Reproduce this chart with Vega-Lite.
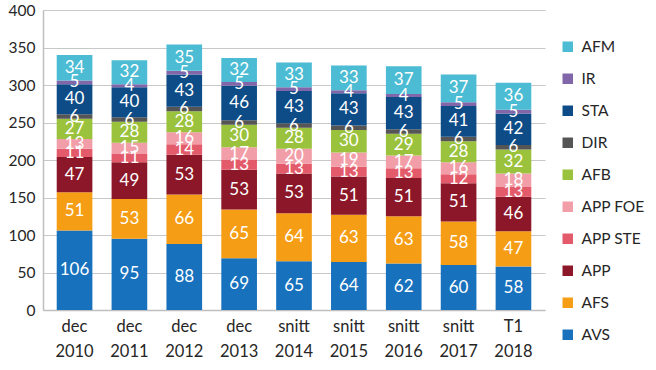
{
  "$schema": "https://vega.github.io/schema/vega-lite/v6.json",
  "width": 502,
  "height": 300,
  "autosize": {"type": "none"},
  "padding": {"left": 43, "top": 10, "right": 111, "bottom": 60},
  "background": "white",
  "config": {
    "font": "Lato",
    "view": {"stroke": null}
  },
  "data": {
    "values": [
      {"period": "dec 2010", "cat": "AVS", "v": 106}, {"period": "dec 2010", "cat": "AFS", "v": 51}, {"period": "dec 2010", "cat": "APP", "v": 47}, {"period": "dec 2010", "cat": "APP STE", "v": 11}, {"period": "dec 2010", "cat": "APP FOE", "v": 13}, {"period": "dec 2010", "cat": "AFB", "v": 27}, {"period": "dec 2010", "cat": "DIR", "v": 6}, {"period": "dec 2010", "cat": "STA", "v": 40}, {"period": "dec 2010", "cat": "IR", "v": 5}, {"period": "dec 2010", "cat": "AFM", "v": 34},
      {"period": "dec 2011", "cat": "AVS", "v": 95}, {"period": "dec 2011", "cat": "AFS", "v": 53}, {"period": "dec 2011", "cat": "APP", "v": 49}, {"period": "dec 2011", "cat": "APP STE", "v": 11}, {"period": "dec 2011", "cat": "APP FOE", "v": 15}, {"period": "dec 2011", "cat": "AFB", "v": 28}, {"period": "dec 2011", "cat": "DIR", "v": 6}, {"period": "dec 2011", "cat": "STA", "v": 40}, {"period": "dec 2011", "cat": "IR", "v": 4}, {"period": "dec 2011", "cat": "AFM", "v": 32},
      {"period": "dec 2012", "cat": "AVS", "v": 88}, {"period": "dec 2012", "cat": "AFS", "v": 66}, {"period": "dec 2012", "cat": "APP", "v": 53}, {"period": "dec 2012", "cat": "APP STE", "v": 14}, {"period": "dec 2012", "cat": "APP FOE", "v": 16}, {"period": "dec 2012", "cat": "AFB", "v": 28}, {"period": "dec 2012", "cat": "DIR", "v": 6}, {"period": "dec 2012", "cat": "STA", "v": 43}, {"period": "dec 2012", "cat": "IR", "v": 5}, {"period": "dec 2012", "cat": "AFM", "v": 35},
      {"period": "dec 2013", "cat": "AVS", "v": 69}, {"period": "dec 2013", "cat": "AFS", "v": 65}, {"period": "dec 2013", "cat": "APP", "v": 53}, {"period": "dec 2013", "cat": "APP STE", "v": 13}, {"period": "dec 2013", "cat": "APP FOE", "v": 17}, {"period": "dec 2013", "cat": "AFB", "v": 30}, {"period": "dec 2013", "cat": "DIR", "v": 6}, {"period": "dec 2013", "cat": "STA", "v": 46}, {"period": "dec 2013", "cat": "IR", "v": 5}, {"period": "dec 2013", "cat": "AFM", "v": 32},
      {"period": "snitt 2014", "cat": "AVS", "v": 65}, {"period": "snitt 2014", "cat": "AFS", "v": 64}, {"period": "snitt 2014", "cat": "APP", "v": 53}, {"period": "snitt 2014", "cat": "APP STE", "v": 13}, {"period": "snitt 2014", "cat": "APP FOE", "v": 20}, {"period": "snitt 2014", "cat": "AFB", "v": 28}, {"period": "snitt 2014", "cat": "DIR", "v": 6}, {"period": "snitt 2014", "cat": "STA", "v": 43}, {"period": "snitt 2014", "cat": "IR", "v": 5}, {"period": "snitt 2014", "cat": "AFM", "v": 33},
      {"period": "snitt 2015", "cat": "AVS", "v": 64}, {"period": "snitt 2015", "cat": "AFS", "v": 63}, {"period": "snitt 2015", "cat": "APP", "v": 51}, {"period": "snitt 2015", "cat": "APP STE", "v": 13}, {"period": "snitt 2015", "cat": "APP FOE", "v": 19}, {"period": "snitt 2015", "cat": "AFB", "v": 30}, {"period": "snitt 2015", "cat": "DIR", "v": 6}, {"period": "snitt 2015", "cat": "STA", "v": 43}, {"period": "snitt 2015", "cat": "IR", "v": 4}, {"period": "snitt 2015", "cat": "AFM", "v": 33},
      {"period": "snitt 2016", "cat": "AVS", "v": 62}, {"period": "snitt 2016", "cat": "AFS", "v": 63}, {"period": "snitt 2016", "cat": "APP", "v": 51}, {"period": "snitt 2016", "cat": "APP STE", "v": 13}, {"period": "snitt 2016", "cat": "APP FOE", "v": 17}, {"period": "snitt 2016", "cat": "AFB", "v": 29}, {"period": "snitt 2016", "cat": "DIR", "v": 6}, {"period": "snitt 2016", "cat": "STA", "v": 43}, {"period": "snitt 2016", "cat": "IR", "v": 4}, {"period": "snitt 2016", "cat": "AFM", "v": 37},
      {"period": "snitt 2017", "cat": "AVS", "v": 60}, {"period": "snitt 2017", "cat": "AFS", "v": 58}, {"period": "snitt 2017", "cat": "APP", "v": 51}, {"period": "snitt 2017", "cat": "APP STE", "v": 12}, {"period": "snitt 2017", "cat": "APP FOE", "v": 16}, {"period": "snitt 2017", "cat": "AFB", "v": 28}, {"period": "snitt 2017", "cat": "DIR", "v": 6}, {"period": "snitt 2017", "cat": "STA", "v": 41}, {"period": "snitt 2017", "cat": "IR", "v": 5}, {"period": "snitt 2017", "cat": "AFM", "v": 37},
      {"period": "T1 2018", "cat": "AVS", "v": 58}, {"period": "T1 2018", "cat": "AFS", "v": 47}, {"period": "T1 2018", "cat": "APP", "v": 46}, {"period": "T1 2018", "cat": "APP STE", "v": 13}, {"period": "T1 2018", "cat": "APP FOE", "v": 18}, {"period": "T1 2018", "cat": "AFB", "v": 32}, {"period": "T1 2018", "cat": "DIR", "v": 6}, {"period": "T1 2018", "cat": "STA", "v": 42}, {"period": "T1 2018", "cat": "IR", "v": 5}, {"period": "T1 2018", "cat": "AFM", "v": 36}
    ]
  },
  "transform": [
    {"calculate": "indexof(['AVS','AFS','APP','APP STE','APP FOE','AFB','DIR','STA','IR','AFM'], datum.cat)", "as": "k"},
    {"stack": "v", "groupby": ["period"], "sort": [{"field": "k", "order": "ascending"}], "as": ["y0", "y1"]},
    {"calculate": "(datum.y0 + datum.y1) / 2", "as": "mid"}
  ],
  "encoding": {
    "x": {
      "field": "period", "type": "nominal", "sort": null,
      "scale": {"paddingInner": 0.35, "paddingOuter": 0.25},
      "axis": {
        "title": null, "labelAngle": 0, "labelFontSize": 16.5, "labelColor": "#262626",
        "labelExpr": "split(datum.label, ' ')", "labelLineHeight": 25, "labelPadding": 8,
        "labelOverlap": false, "ticks": false, "domainColor": "#bfbfbf", "domainWidth": 1.5
      }
    }
  },
  "layer": [
    {
      "mark": {"type": "bar"},
      "encoding": {
        "y": {
          "field": "y0", "type": "quantitative",
          "scale": {"domain": [0, 400]},
          "axis": {
            "title": null, "values": [0, 50, 100, 150, 200, 250, 300, 350, 400],
            "labelFontSize": 15.5, "labelColor": "#262626", "labelPadding": 8,
            "labelOverlap": false, "ticks": false, "gridColor": "#c8c8c8", "gridWidth": 1.2,
            "domainColor": "#bfbfbf", "domainWidth": 1.5
          }
        },
        "y2": {"field": "y1"},
        "color": {
          "field": "cat", "type": "nominal",
          "scale": {
            "domain": ["AFM", "IR", "STA", "DIR", "AFB", "APP FOE", "APP STE", "APP", "AFS", "AVS"],
            "range": ["#4BBCD3", "#8167A9", "#0E4C87", "#555555", "#9AC23C", "#F29EA8", "#E35A6A", "#8B1728", "#F59D14", "#1771BD"]
          },
          "legend": {
            "title": null, "orient": "none", "legendX": 517, "legendY": 29,
            "symbolType": "square", "symbolSize": 110, "symbolStrokeWidth": 0,
            "labelFontSize": 15.5, "labelColor": "#262626", "rowPadding": 15, "labelOffset": 6
          }
        }
      }
    },
    {
      "mark": {"type": "text", "color": "white", "fontSize": 17, "baseline": "middle"},
      "encoding": {
        "y": {
          "field": "mid", "type": "quantitative",
          "axis": {
            "title": null, "values": [0, 50, 100, 150, 200, 250, 300, 350, 400],
            "labelFontSize": 15.5, "labelColor": "#262626", "labelPadding": 8,
            "labelOverlap": false, "ticks": false, "gridColor": "#c8c8c8", "gridWidth": 1.2,
            "domainColor": "#bfbfbf", "domainWidth": 1.5
          }
        },
        "text": {"field": "v", "type": "quantitative"}
      }
    }
  ]
}
